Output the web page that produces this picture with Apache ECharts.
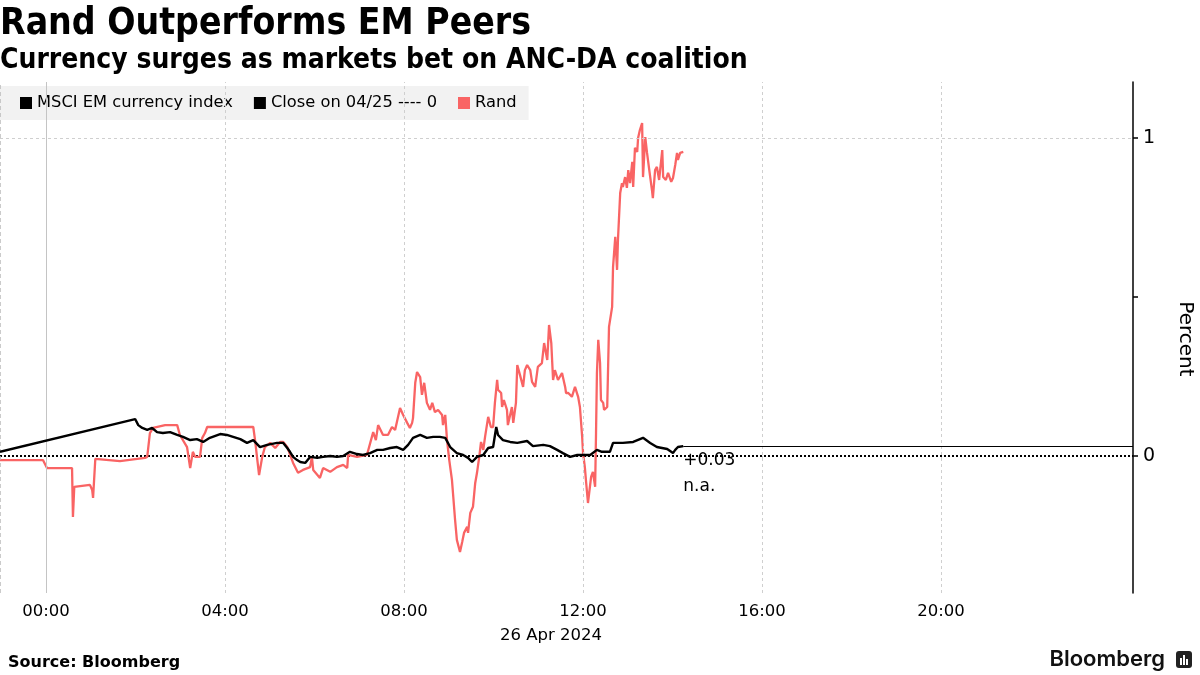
<!DOCTYPE html>
<html><head><meta charset="utf-8">
<script src="https://cdn.jsdelivr.net/npm/echarts@6/dist/echarts.min.js"></script>
<style>html,body{margin:0;padding:0;background:#fff}#c{width:1200px;height:675px}</style>
</head><body><div id="c"></div>
<script>
// hours relative to 00:00, 26 Apr 2024 ; values in percent
const msciData = [[-1.03,0.013],[1.99,0.116],[2.06,0.097],[2.15,0.088],[2.26,0.082],[2.37,0.088],[2.48,0.075],[2.61,0.072],[2.77,0.075],[2.93,0.066],[3.06,0.060],[3.22,0.050],[3.37,0.053],[3.51,0.044],[3.66,0.057],[3.89,0.069],[4.04,0.066],[4.18,0.060],[4.34,0.053],[4.49,0.041],[4.63,0.050],[4.78,0.028],[4.94,0.035],[5.16,0.041],[5.30,0.041],[5.39,0.025],[5.45,0.013],[5.52,-0.003],[5.61,-0.013],[5.68,-0.019],[5.79,-0.022],[5.90,-0.003],[6.06,-0.006],[6.19,-0.003],[6.35,0.000],[6.50,-0.003],[6.64,0.000],[6.79,0.013],[6.95,0.006],[7.08,0.003],[7.24,0.009],[7.40,0.019],[7.53,0.019],[7.69,0.025],[7.84,0.028],[7.98,0.019],[8.09,0.035],[8.20,0.057],[8.36,0.066],[8.51,0.057],[8.65,0.060],[8.80,0.060],[8.92,0.057],[9.03,0.028],[9.18,0.009],[9.32,0.003],[9.43,-0.006],[9.52,-0.019],[9.63,-0.003],[9.77,0.003],[9.88,0.025],[9.99,0.028],[10.06,0.091],[10.10,0.066],[10.21,0.050],[10.37,0.044],[10.53,0.041],[10.75,0.047],[10.88,0.031],[11.11,0.035],[11.26,0.031],[11.42,0.019],[11.55,0.009],[11.71,-0.003],[11.87,0.003],[12.00,0.003],[12.16,0.003],[12.31,0.019],[12.42,0.013],[12.60,0.013],[12.67,0.041],[12.89,0.041],[13.12,0.044],[13.34,0.057],[13.50,0.041],[13.65,0.028],[13.88,0.022],[14.01,0.009],[14.06,0.019],[14.12,0.028],[14.24,0.031]];

const randData = [[-1.03,-0.013],[-0.07,-0.013],[0.02,-0.038],[0.58,-0.038],[0.60,-0.192],[0.63,-0.097],[0.98,-0.091],[1.03,-0.107],[1.05,-0.132],[1.10,-0.009],[1.65,-0.016],[2.21,-0.006],[2.26,-0.003],[2.32,0.072],[2.39,0.088],[2.66,0.097],[2.93,0.097],[2.99,0.066],[3.15,0.028],[3.22,-0.038],[3.28,0.013],[3.33,-0.003],[3.44,-0.003],[3.49,0.057],[3.55,0.072],[3.60,0.091],[3.82,0.091],[4.63,0.091],[4.67,0.050],[4.76,-0.060],[4.83,-0.003],[4.89,0.028],[5.01,0.041],[5.12,0.025],[5.23,0.044],[5.30,0.044],[5.39,0.028],[5.52,-0.022],[5.63,-0.053],[5.74,-0.044],[5.90,-0.035],[5.94,-0.003],[5.97,-0.044],[6.12,-0.069],[6.19,-0.038],[6.35,-0.050],[6.50,-0.035],[6.64,-0.028],[6.73,-0.038],[6.75,0.003],[6.95,-0.003],[7.17,0.003],[7.31,0.075],[7.37,0.050],[7.42,0.097],[7.53,0.066],[7.64,0.066],[7.73,0.091],[7.80,0.082],[7.84,0.107],[7.91,0.151],[7.98,0.129],[8.07,0.104],[8.13,0.088],[8.18,0.104],[8.20,0.119],[8.25,0.230],[8.29,0.264],[8.36,0.248],[8.40,0.192],[8.45,0.230],[8.51,0.167],[8.58,0.145],[8.63,0.167],[8.69,0.138],[8.76,0.145],[8.85,0.129],[8.87,0.097],[8.92,0.129],[8.96,0.050],[9.01,-0.013],[9.07,-0.075],[9.10,-0.129],[9.14,-0.201],[9.18,-0.264],[9.25,-0.302],[9.30,-0.270],[9.34,-0.242],[9.41,-0.223],[9.43,-0.242],[9.48,-0.179],[9.54,-0.160],[9.59,-0.085],[9.63,-0.053],[9.68,-0.003],[9.72,0.044],[9.77,0.019],[9.81,0.060],[9.88,0.123],[9.94,0.091],[9.99,0.091],[10.03,0.167],[10.08,0.239],[10.10,0.208],[10.17,0.198],[10.19,0.154],[10.23,0.176],[10.30,0.145],[10.32,0.097],[10.41,0.154],[10.44,0.104],[10.50,0.167],[10.53,0.286],[10.59,0.255],[10.66,0.217],[10.70,0.270],[10.75,0.286],[10.82,0.270],[10.86,0.233],[10.93,0.217],[10.99,0.280],[11.08,0.292],[11.13,0.355],[11.20,0.302],[11.24,0.412],[11.29,0.355],[11.33,0.239],[11.37,0.270],[11.44,0.239],[11.53,0.261],[11.60,0.217],[11.62,0.198],[11.67,0.198],[11.75,0.186],[11.82,0.217],[11.89,0.186],[11.93,0.154],[11.98,0.060],[12.00,0.009],[12.04,-0.035],[12.07,-0.085],[12.11,-0.148],[12.18,-0.066],[12.22,-0.050],[12.27,-0.097],[12.29,0.072],[12.31,0.261],[12.34,0.365],[12.38,0.292],[12.40,0.176],[12.45,0.167],[12.47,0.145],[12.54,0.154],[12.58,0.406],[12.65,0.469],[12.67,0.594],[12.72,0.689],[12.76,0.585],[12.78,0.679],[12.83,0.827],[12.87,0.858],[12.89,0.846],[12.94,0.877],[12.98,0.843],[13.01,0.899],[13.05,0.858],[13.10,0.925],[13.12,0.846],[13.16,0.969],[13.21,0.956],[13.23,1.000],[13.27,1.025],[13.32,1.047],[13.34,0.877],[13.39,1.003],[13.43,0.953],[13.48,0.899],[13.54,0.836],[13.56,0.811],[13.61,0.899],[13.65,0.909],[13.70,0.868],[13.77,0.962],[13.79,0.877],[13.85,0.868],[13.90,0.890],[13.97,0.862],[14.01,0.874],[14.06,0.915],[14.10,0.953],[14.12,0.931],[14.17,0.953],[14.24,0.956]];

const closeValue = 0;
const xTickHours = [0, 4, 8, 12, 16, 20];
const xTickLabels = ['00:00', '04:00', '08:00', '12:00', '16:00', '20:00'];
const yLabelValues = [0, 1];
const yTickValues = [0, 0.5, 1];
const xRange = [-1.03, 24.29];
const yRange = [-0.431, 1.176];
const msciLastLabel = '+0.03';
const randLastLabel = 'n.a.';
const seriesNames = ['MSCI EM currency index', 'Close on 04/25 ---- 0', 'Rand'];
const titleText = 'Rand Outperforms EM Peers';
const subtitleText = 'Currency surges as markets bet on ANC-DA coalition';
const dateLabel = '26 Apr 2024';
const sourceText = 'Source: Bloomberg';
const yAxisName = 'Percent';

const FONT = 'DejaVu Sans';
const RED = '#f96464';
const chart = echarts.init(document.getElementById('c'), null, {renderer: 'canvas'});

const lastMsci = msciData[msciData.length - 1];
const vGrid = xTickHours.map(h => ({
  xAxis: h,
  lineStyle: {color: h === 0 ? '#c4c4c4' : '#cfcfcf', type: h === 0 ? 'solid' : [3, 3], width: 1}
}));
vGrid.push({xAxis: xRange[0], lineStyle: {color: '#bbb', type: [4, 3], width: 1.5}});

const baseGraphic = [
  {type: 'text', left: 0, top: 6, style: {text: titleText, font: 'bold 37px "DejaVu Sans Condensed", "DejaVu Sans"', fill: '#000'}},
  {type: 'text', left: 0, top: 47, style: {text: subtitleText, font: 'bold 28px "DejaVu Sans Condensed", "DejaVu Sans"', fill: '#000'}},
  {type: 'text', left: 8, top: 655, style: {text: sourceText, font: 'bold 16px "DejaVu Sans"', fill: '#000'}},
  {type: 'text', right: 35, top: 648, style: {text: 'Bloomberg', font: '600 22px Inter', fill: '#111'}},
  {type: 'group', left: 1176, top: 651, children: [
    {type: 'rect', shape: {x: 0, y: 0, width: 16, height: 17, r: 3}, style: {fill: '#222'}},
    {type: 'rect', shape: {x: 4, y: 7, width: 2, height: 7}, style: {fill: '#fff'}},
    {type: 'rect', shape: {x: 7, y: 4, width: 2, height: 10}, style: {fill: '#fff'}},
    {type: 'rect', shape: {x: 10, y: 8, width: 2, height: 6}, style: {fill: '#fff'}}
  ]},
  {type: 'text', left: 500, top: 627, style: {text: dateLabel, font: '16.5px "DejaVu Sans"', fill: '#000'}},
  {type: 'text', x: 1185, y: 339, rotation: -Math.PI / 2, style: {text: yAxisName, font: '20px "DejaVu Sans"', fill: '#000', align: 'center', verticalAlign: 'middle'}},
  {type: 'group', x: 9, y: 98, z: 100, zlevel: 1, children: [
    {type: 'rect', shape: {x: 0, y: 0, width: 6, height: 6}, style: {fill: '#fff', stroke: '#888', lineWidth: 1}},
    {type: 'line', shape: {x1: 3, y1: 6, x2: 3, y2: 11}, style: {stroke: '#888', lineWidth: 1}}
  ]}
];

const option = {
  animation: false,
  textStyle: {fontFamily: FONT},
  grid: {left: 0, right: 67, top: 82, bottom: 82, containLabel: false},
  legend: {
    data: seriesNames,
    left: 0, top: 86, z: 1,
    padding: [9, 12, 9, 20], itemGap: 21, itemWidth: 12, itemHeight: 12, icon: 'rect',
    backgroundColor: '#f2f2f2', selectedMode: false,
    textStyle: {fontSize: 16.3, color: '#000', fontFamily: FONT}
  },
  xAxis: {
    type: 'value', min: xRange[0], max: xRange[1],
    axisLine: {show: false}, splitLine: {show: false},
    axisTick: {show: true, customValues: xTickHours, length: 4, lineStyle: {color: '#ccc'}},
    axisLabel: {
      customValues: xTickHours, fontSize: 16.5, color: '#000', margin: 10, fontFamily: FONT,
      formatter: v => xTickLabels[xTickHours.indexOf(Math.round(v))] || ''
    }
  },
  yAxis: {
    type: 'value', position: 'right', min: yRange[0], max: yRange[1],
    axisLine: {show: true, onZero: false, lineStyle: {color: '#000', width: 1.5}},
    axisTick: {show: true, customValues: yTickValues, length: 5, lineStyle: {color: '#000', width: 1.5}},
    axisLabel: {customValues: yLabelValues, fontSize: 19, color: '#000', margin: 10, fontFamily: FONT,
      formatter: v => String(Math.round(v))},
    splitLine: {show: false}
  },
  series: [
    {
      name: 'grid', type: 'line', data: [], silent: true, z: 2,
      markLine: {silent: true, symbol: 'none', label: {show: false}, animation: false,
        data: vGrid.concat([{yAxis: 1, lineStyle: {color: '#cfcfcf', type: [3, 3], width: 1}}])}
    },
    {
      name: seriesNames[1], type: 'line', z: 3, symbol: 'none', silent: true,
      data: [[xRange[0], closeValue], [xRange[1], closeValue]],
      lineStyle: {color: '#000', width: 2, type: [2, 2]}, itemStyle: {color: '#000'}
    },
    {
      name: seriesNames[0], type: 'line', z: 5, symbol: 'none', silent: true,
      data: msciData, lineStyle: {color: '#000', width: 2.4}, itemStyle: {color: '#000'},
      markLine: {silent: true, symbol: 'none', label: {show: false},
        data: [[{coord: lastMsci}, {coord: [xRange[1], lastMsci[1]]}]],
        lineStyle: {color: '#000', width: 1.2, type: 'solid'}}
    },
    {
      name: seriesNames[2], type: 'line', z: 4, symbol: 'none', silent: true,
      data: randData, lineStyle: {color: RED, width: 2.3}, itemStyle: {color: RED}
    }
  ],
  graphic: baseGraphic
};
chart.setOption(option);

const p = chart.convertToPixel({gridIndex: 0}, lastMsci);
chart.setOption({graphic: baseGraphic.concat([
  {type: 'text', x: p[0], y: p[1] + 14, style: {text: msciLastLabel, font: '17px "DejaVu Sans"', fill: '#000', verticalAlign: 'middle'}},
  {type: 'text', x: p[0], y: p[1] + 40, style: {text: randLastLabel, font: '17px "DejaVu Sans"', fill: '#000', verticalAlign: 'middle'}}
])});
</script></body></html>
